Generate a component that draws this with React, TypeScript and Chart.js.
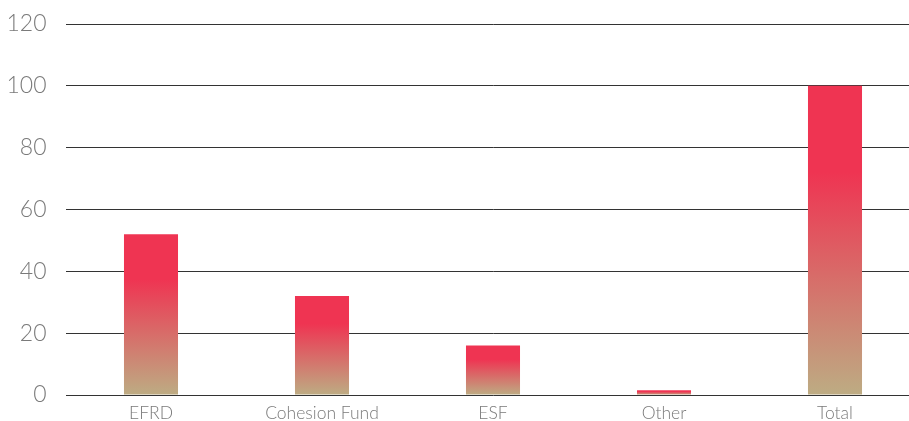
import React, { useEffect, useRef } from "react";
import { Chart, registerables } from "chart.js";

Chart.register(...registerables);

const categories = ["EFRD", "Cohesion Fund", "ESF", "Other", "Total"];
const values = [52, 32, 16, 1.5, 100];
const yTicks = [0, 20, 40, 60, 80, 100, 120];

const RED = "#EF3452";
const TAN = "#BDAC83";

export default function App() {
  const ref = useRef<HTMLCanvasElement | null>(null);

  useEffect(() => {
    const canvas = ref.current;
    if (!canvas) return;
    const chart = new Chart(canvas, {
      type: "bar",
      data: {
        labels: categories,
        datasets: [
          {
            data: values,
            barPercentage: 1,
            categoryPercentage: 0.316,
            borderWidth: 0,
            backgroundColor: (ctx: any) => {
              const c = ctx.chart;
              const y = c.scales?.y;
              if (!y || ctx.raw == null) return RED;
              const top = y.getPixelForValue(ctx.raw);
              const bottom = y.getPixelForValue(0);
              if (!isFinite(top) || !isFinite(bottom) || bottom - top < 1) return RED;
              const g = c.ctx.createLinearGradient(0, top, 0, bottom);
              g.addColorStop(0, RED);
              g.addColorStop(0.28, RED);
              g.addColorStop(1, TAN);
              return g;
            },
          },
        ],
      },
      options: {
        animation: false,
        responsive: false,
        maintainAspectRatio: false,
        layout: { padding: { top: 24, right: 4.5, left: 0, bottom: 0 } },
        plugins: { legend: { display: false }, tooltip: { enabled: false } },
        scales: {
          x: {
            grid: { display: false, drawTicks: false },
            border: { display: false },
            ticks: {
              color: "#7a7a7a",
              font: { family: "Lato", size: 17.5, weight: 300 },
              padding: 8,
              maxRotation: 0,
              autoSkip: false,
            },
            afterFit: (s: any) => {
              s.height = 26;
              s.paddingLeft = 0;
              s.paddingRight = 0;
            },
          },
          y: {
            min: 0,
            max: 120,
            afterBuildTicks: (s: any) => {
              s.ticks = yTicks.map((v) => ({ value: v }));
            },
            grid: { color: "#333333", lineWidth: 1, drawTicks: false },
            border: { display: false },
            ticks: {
              color: "#7a7a7a",
              font: { family: "Lato", size: 23, weight: 300 },
              padding: 19,
            },
            afterFit: (s: any) => {
              s.width = 65.5;
              s.paddingTop = 0;
              s.paddingBottom = 0;
            },
          },
        },
      },
    });
    return () => chart.destroy();
  }, []);

  return (
    <div
      style={{
        position: "fixed",
        left: 0,
        top: 0,
        width: 909,
        height: 421,
        overflow: "hidden",
        background: "#fff",
      }}
    >
      <canvas ref={ref} width={925} height={421} style={{ display: "block" }} />
    </div>
  );
}
